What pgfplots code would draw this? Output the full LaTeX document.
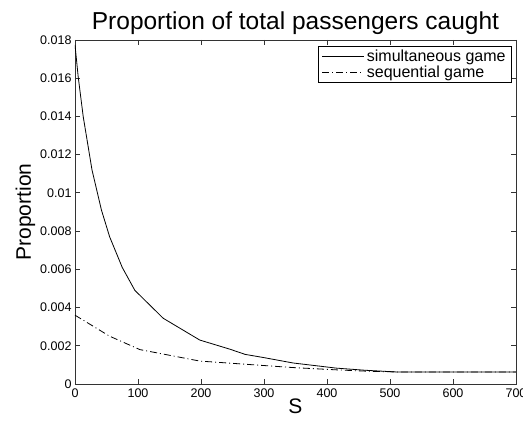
\documentclass[border=0pt]{standalone}
\usepackage{pgfplots}
\pgfplotsset{compat=1.18}
\usepackage{fontspec}
\setmainfont{Liberation Sans}

\pgfplotstableread{
S      P
0      0.01775
5      0.0161
13     0.0140
27     0.0112
42     0.0091
55     0.0077
75     0.0061
95     0.0049
140    0.00344
198    0.0023
246    0.00182
270    0.00155
300    0.00138
346    0.00110
415    0.00083
460    0.00072
510    0.00063
700    0.00063
}\simultaneous

\pgfplotstableread{
S      P
0      0.0036
55     0.0025
103    0.0018
198    0.0012
272    0.00103
346    0.00086
415    0.00074
470    0.00066
510    0.00063
700    0.00063
}\sequential

\begin{document}
\begin{tikzpicture}[x=1pt,y=1pt]
\path[use as bounding box] (-75,-44) rectangle (448,384);
\begin{axis}[
  at={(0,0)}, anchor=south west,
  scale only axis,
  width=441pt, height=344pt,
  xmin=0, xmax=700, ymin=0, ymax=0.018,
  xtick={0,100,...,700},
  ytick={0,0.002,0.004,0.006,0.008,0.01,0.012,0.014,0.016,0.018},
  yticklabels={0,0.002,0.004,0.006,0.008,0.01,0.012,0.014,0.016,0.018},
  scaled y ticks=false,
  tick align=inside,
  major tick length=5pt,
  axis line style={black!80, line width=0.8pt},
  every tick/.style={black!80, line width=0.8pt},
  tick label style={font=\fontsize{12.5}{14}\selectfont, /pgf/number format/assume math mode=true},
  xticklabel style={yshift=-1pt},
  title={Proportion of total passengers caught},
  title style={font=\fontsize{24.5}{28}\selectfont, yshift=-4pt},
  xlabel={S},
  ylabel={Proportion},
  label style={font=\fontsize{21}{24}\selectfont},
  xlabel style={yshift=5pt},
  ylabel style={yshift=-2pt},
  legend style={at={(0.991,0.983)}, anchor=north east,
    font=\fontsize{16}{18}\selectfont, draw=black, line width=0.8pt,
    inner xsep=4pt, inner ysep=1.5pt, row sep=-1pt, cells={anchor=west}},
  legend image code/.code={\draw[#1, line width=0.8pt] (0pt,0pt) -- (42pt,0pt);},
]
\addplot[black, line width=0.8pt] table[x=S, y=P] {\simultaneous};
\addlegendentry{simultaneous game}
\addplot[black, line width=0.8pt, dash pattern=on 7pt off 3pt on 1pt off 3pt] table[x=S, y=P] {\sequential};
\addlegendentry{sequential game}
\end{axis}
\end{tikzpicture}
\end{document}
